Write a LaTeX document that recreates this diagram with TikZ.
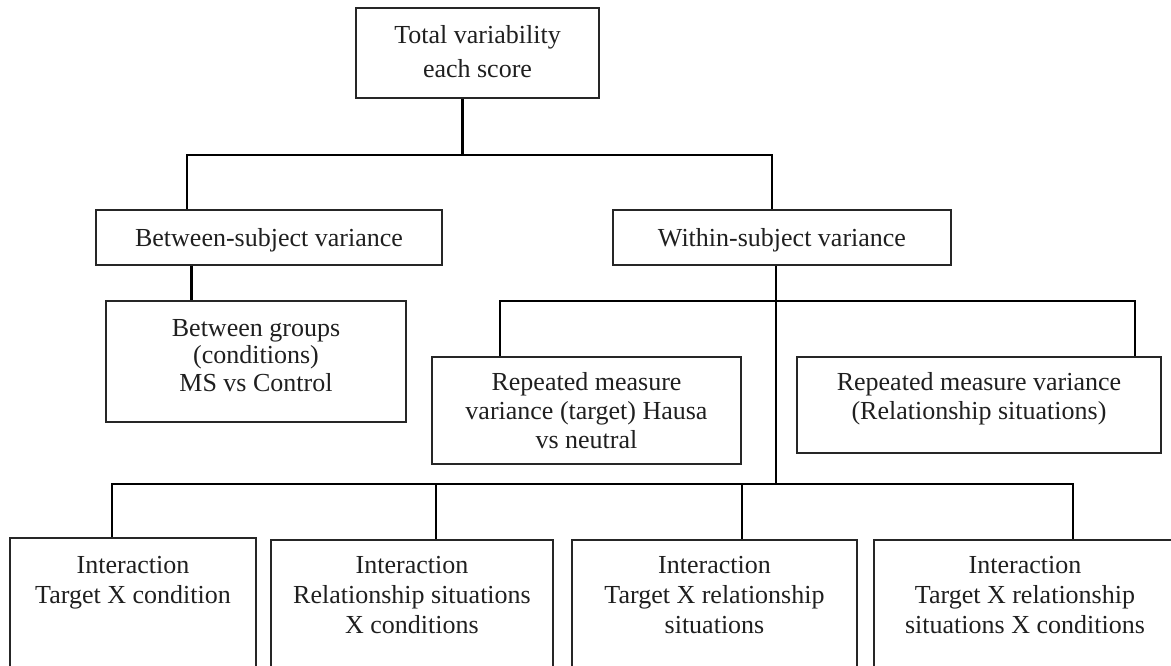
\documentclass[tikz,border=0pt]{standalone}
\usepackage{fontspec}
\setmainfont{Liberation Serif}
\usetikzlibrary{fit}
\begin{document}
\begin{tikzpicture}[x=1pt,y=-1pt,
  box/.style={draw=black!85,line width=1.8pt,inner sep=0pt,rectangle},
  txt/.style={inner sep=0pt,align=center,text=black!88,font=\fontsize{26}{29.5}\selectfont},
  conn/.style={draw=black,line width=2.2pt},
  heavy/.style={draw=black,line width=3pt}]
\useasboundingbox (0,0) rectangle (1171,666);
\clip (0,0) rectangle (1171,666);
% boxes
\node[box,fit={(356,8) (599,98)}] (tot) {};
\node[box,fit={(96,210) (442,265)}] (bs) {};
\node[box,fit={(613,210) (951,265)}] (ws) {};
\node[box,fit={(106,301) (406,422)}] (bg) {};
\node[box,fit={(432,357) (741,464)}] (rl) {};
\node[box,fit={(797,357) (1161,453)}] (rr) {};
\node[box,fit={(10,538) (256,690)}] (i1) {};
\node[box,fit={(271,540) (553,690)}] (i2) {};
\node[box,fit={(572,540) (857,690)}] (i3) {};
\node[box,fit={(874,540) (1176,690)}] (i4) {};
% texts
\node[txt,anchor=north,font=\fontsize{26}{34}\selectfont] (tot-t) at (477.5,25.3) {Total variability\\each score};
\node[txt,anchor=base] (bs-t) at (269,247) {Between-subject variance};
\node[txt,anchor=base] (ws-t) at (782,247) {Within-subject variance};
\node[txt,anchor=north,font=\fontsize{26}{27.5}\selectfont] (bg-t) at (256,318.8) {Between groups\\(conditions)\\MS vs Control};
\node[txt,anchor=north,font=\fontsize{26}{29}\selectfont] (rl-t) at (586.5,372.3) {Repeated measure\\variance (target) Hausa\\vs neutral};
\node[txt,anchor=north,font=\fontsize{26}{29}\selectfont] (rr-t) at (979,372.3) {Repeated measure variance\\(Relationship situations)};
\node[txt,anchor=north,font=\fontsize{26}{30}\selectfont] (i1-t) at (133,555.8) {Interaction\\Target X condition};
\node[txt,anchor=north,font=\fontsize{26}{30}\selectfont] (i2-t) at (412,555.8) {Interaction\\Relationship situations\\X conditions};
\node[txt,anchor=north,font=\fontsize{26}{30}\selectfont] (i3-t) at (714.5,555.8) {Interaction\\Target X relationship\\situations};
\node[txt,anchor=north,font=\fontsize{26}{30}\selectfont] (i4-t) at (1025,555.8) {Interaction\\Target X relationship\\situations X conditions};
% junction coordinates
\coordinate (hT) at (462,155);
\coordinate (hL) at (187,155);
\coordinate (hR) at (772,155);
\coordinate (bsx) at (191,0);
\coordinate (wsx) at (776,484);
\coordinate (mL) at (500,301);
\coordinate (mR) at (1135,301);
\coordinate (lL) at (112,484);
\coordinate (l2) at (436,484);
\coordinate (l3) at (742,484);
\coordinate (lR) at (1073,484);
% connectors
\draw[heavy] (tot.south -| hT) -- (hT);
\draw[conn] (hL |- bs.north) -- (hL) -- (hR) -- (hR |- ws.north);
\draw[heavy] (bsx |- bs.south) -- (bsx |- bg.north);
\draw[conn] (wsx |- ws.south) -- (wsx);
\draw[conn] (mL |- rl.north) -- (mL) -- (mR) -- (mR |- rr.north);
\draw[conn] (lL |- i1.north) -- (lL) -- (lR) -- (lR |- i4.north);
\draw[conn] (l2) -- (l2 |- i2.north);
\draw[conn] (l3) -- (l3 |- i3.north);
\end{tikzpicture}
\end{document}
